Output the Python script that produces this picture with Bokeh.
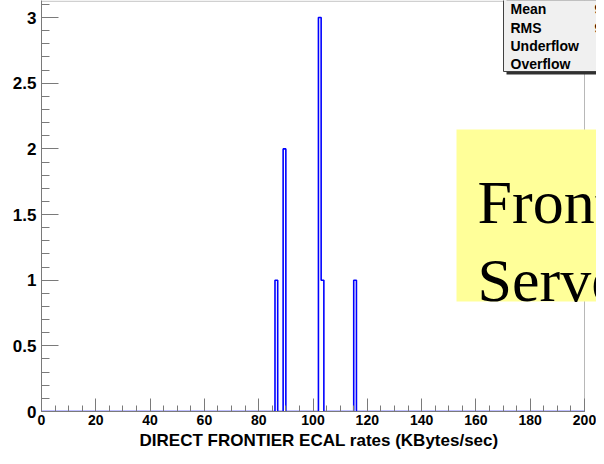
from bokeh.plotting import figure
from bokeh.models import Range1d, SingleIntervalTicker, BoxAnnotation, Label, Span
from bokeh.embed import file_html
from bokeh.resources import INLINE

# ---- data ----
x_min, x_max, n_bins = 0, 200, 200
filled_bins = [86, 89, 102, 103, 115]        # lower bin edges of non-empty bins
bin_counts = [1, 2, 3, 1, 1]                  # entries per non-empty bin
stat_names = ["Mean", "RMS", "Underflow", "Overflow"]
x_title = "DIRECT FRONTIER ECAL rates (KBytes/sec)"
note_lines = ["Frontier", "Server"]

# ---- histogram outline ----
bw = (x_max - x_min) / n_bins
counts = [0] * n_bins
for b, c in zip(filled_bins, bin_counts):
    counts[int((b - x_min) / bw)] = c
sx, sy = [x_min], [0]
for i, c in enumerate(counts):
    lo = x_min + i * bw
    sx += [lo, lo + bw]
    sy += [c, c]
sx.append(x_max)
sy.append(0)

# stats from bin centres
tot = sum(counts)
centres = [x_min + (i + 0.5) * bw for i in range(n_bins)]
mean = sum(c * m for c, m in zip(counts, centres)) / tot
rms = (sum(c * (m - mean) ** 2 for c, m in zip(counts, centres)) / tot) ** 0.5
stat_vals = ["%.4g" % mean, "%.4g" % rms]

W, H = 596, 456
LEFT, BOTTOM = 41, 45
frame_w = W - LEFT
px_per_unit = 2.715
x_end = x_min + frame_w / px_per_unit

p = figure(width=W, height=H, output_backend="svg", toolbar_location=None,
           x_range=Range1d(x_min, x_end), y_range=Range1d(0, 3.13),
           min_border_left=LEFT, min_border_right=0, min_border_top=0,
           min_border_bottom=BOTTOM)
p.grid.visible = False
p.outline_line_color = None
p.background_fill_color = "white"
p.border_fill_color = "white"

axis_col = "#7a7a7a"
# x axis
xa = p.xaxis[0]
xa.bounds = (x_min, x_max)
xa.ticker = SingleIntervalTicker(interval=20, num_minor_ticks=4)
xa.major_tick_in = 13
xa.major_tick_out = 0
xa.minor_tick_in = 6
xa.minor_tick_out = 0
xa.axis_line_color = axis_col
xa.major_tick_line_color = axis_col
xa.minor_tick_line_color = axis_col
xa.major_label_text_font = "Liberation Sans"
xa.major_label_text_font_style = "bold"
xa.major_label_text_font_size = "14px"
xa.major_label_text_color = "black"
xa.major_label_standoff = 3
xa.axis_label = x_title
xa.axis_label_text_font = "Liberation Sans"
xa.axis_label_text_font_style = "bold"
xa.axis_label_text_font_size = "17px"
xa.axis_label_text_color = "black"
xa.axis_label_standoff = 3

# y axis
ya = p.yaxis[0]
ya.ticker = SingleIntervalTicker(interval=0.5, num_minor_ticks=5)
ya.major_tick_in = 17
ya.major_tick_out = 0
ya.minor_tick_in = 8
ya.minor_tick_out = 0
ya.axis_line_color = axis_col
ya.major_tick_line_color = axis_col
ya.minor_tick_line_color = axis_col
ya.major_label_text_font = "Liberation Sans"
ya.major_label_text_font_style = "bold"
ya.major_label_text_font_size = "17px"
ya.major_label_text_color = "black"
ya.major_label_standoff = 5

# frame lines (top / right)
p.add_layout(Span(location=x_max, dimension="height", line_color="#b8b8b8",
                  line_width=1, level="underlay"))
p.add_layout(Span(location=3.125, dimension="width", line_color="#b8b8b8",
                  line_width=1, level="underlay"))

# histogram
p.line(sx, sy, line_color="#0000ff", line_width=1.6)

# stats box (shadow + box)
p.add_layout(BoxAnnotation(left=465, right=600, bottom=337, top=460,
                           left_units="screen", right_units="screen",
                           bottom_units="screen", top_units="screen",
                           fill_color="#303030", fill_alpha=1,
                           line_color=None))
p.add_layout(BoxAnnotation(left=462, right=600, bottom=340, top=460,
                           left_units="screen", right_units="screen",
                           bottom_units="screen", top_units="screen",
                           fill_color="#f0f0f0", fill_alpha=1,
                           line_color="#404040", line_alpha=1, line_width=1))
row_y = [403, 384, 366, 348]
for name, yy in zip(stat_names, row_y):
    p.add_layout(Label(x=469, y=yy, x_units="screen", y_units="screen",
                       text=name, text_baseline="middle",
                       text_font="Liberation Sans", text_font_style="bold",
                       text_font_size="14px", text_color="black"))
for v, yy in zip(stat_vals, row_y[:2]):
    p.add_layout(Label(x=553, y=yy, x_units="screen", y_units="screen",
                       text=v, text_baseline="middle",
                       text_font="Liberation Sans", text_font_style="bold",
                       text_font_size="14px", text_color="black"))

# yellow note box
p.add_layout(BoxAnnotation(left=415, right=600, bottom=110, top=282,
                           left_units="screen", right_units="screen",
                           bottom_units="screen", top_units="screen",
                           fill_color="#ffff99", fill_alpha=1, line_color=None))
for txt, yy in zip(note_lines, [210, 132]):
    p.add_layout(Label(x=436, y=yy, x_units="screen", y_units="screen",
                       text=txt, text_baseline="alphabetic",
                       text_font="Liberation Serif", text_font_size="62px",
                       text_color="black"))

open("out.html", "w").write(file_html(p, INLINE))
